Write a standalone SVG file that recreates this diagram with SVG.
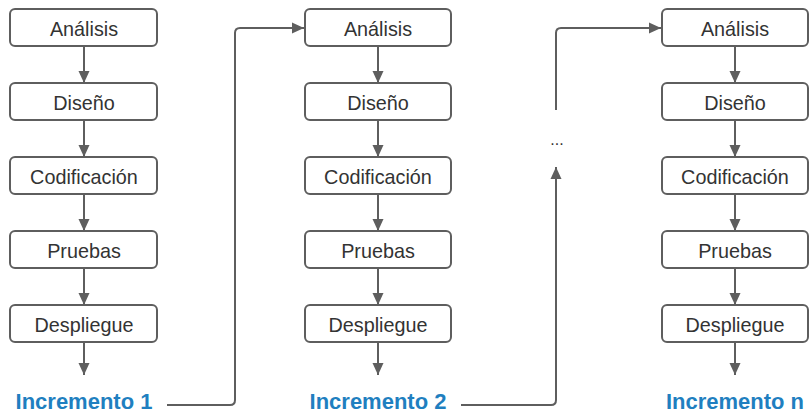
<svg xmlns="http://www.w3.org/2000/svg" width="809" height="412" viewBox="0 0 809 412">
  <defs>
    <marker id="arrow" viewBox="0 0 12 12" refX="12" refY="6" markerWidth="12" markerHeight="12" markerUnits="userSpaceOnUse" orient="auto">
      <path d="M0,0.5 L12,6 L0,11.5 Z" fill="#5e5e5e"/>
    </marker>
    <style>
      .box { fill: #ffffff; stroke: #5e5e5e; stroke-width: 2; }
      .lbl { font-family: "Liberation Sans", Arial, sans-serif; font-size: 19.8px; fill: #333333; text-anchor: middle; }
      .inc { font-family: "Liberation Sans", Arial, sans-serif; font-size: 22px; font-weight: bold; fill: #1f7fc0; text-anchor: middle; }
      .dots { font-family: "Liberation Sans", Arial, sans-serif; font-size: 16px; fill: #333333; text-anchor: middle; }
      .con { fill: none; stroke: #5e5e5e; stroke-width: 2; }
    </style>
  </defs>
  <rect width="809" height="412" fill="#ffffff"/>

  <!-- connectors -->
  <g id="connectors">
    <!-- column 1 -->
    <line class="con" x1="84" y1="46" x2="84" y2="83" marker-end="url(#arrow)"/>
    <line class="con" x1="84" y1="120" x2="84" y2="157" marker-end="url(#arrow)"/>
    <line class="con" x1="84" y1="194" x2="84" y2="231" marker-end="url(#arrow)"/>
    <line class="con" x1="84" y1="268" x2="84" y2="305" marker-end="url(#arrow)"/>
    <line class="con" x1="84" y1="342" x2="84" y2="375" marker-end="url(#arrow)"/>
    <!-- column 2 -->
    <line class="con" x1="378" y1="46" x2="378" y2="83" marker-end="url(#arrow)"/>
    <line class="con" x1="378" y1="120" x2="378" y2="157" marker-end="url(#arrow)"/>
    <line class="con" x1="378" y1="194" x2="378" y2="231" marker-end="url(#arrow)"/>
    <line class="con" x1="378" y1="268" x2="378" y2="305" marker-end="url(#arrow)"/>
    <line class="con" x1="378" y1="342" x2="378" y2="375" marker-end="url(#arrow)"/>
    <!-- column 3 -->
    <line class="con" x1="735" y1="46" x2="735" y2="83" marker-end="url(#arrow)"/>
    <line class="con" x1="735" y1="120" x2="735" y2="157" marker-end="url(#arrow)"/>
    <line class="con" x1="735" y1="194" x2="735" y2="231" marker-end="url(#arrow)"/>
    <line class="con" x1="735" y1="268" x2="735" y2="305" marker-end="url(#arrow)"/>
    <line class="con" x1="735" y1="342" x2="735" y2="375" marker-end="url(#arrow)"/>
    <!-- increment 1 to increment 2 -->
    <path class="con" d="M167,405 H230 Q235,405 235,400 V33 Q235,28 240,28 H304" marker-end="url(#arrow)"/>
    <!-- increment 2 to ellipsis -->
    <path class="con" d="M461,405 H551 Q556,405 556,400 V167" marker-end="url(#arrow)"/>
    <!-- ellipsis to increment n -->
    <path class="con" d="M556,110 V33 Q556,28 561,28 H661" marker-end="url(#arrow)"/>
  </g>

  <!-- increment 1 -->
  <g id="inc1-analisis"><rect class="box" x="10" y="9" width="147" height="37" rx="5"/><text class="lbl" x="84" y="35.5">Análisis</text></g>
  <g id="inc1-diseno"><rect class="box" x="10" y="83" width="147" height="37" rx="5"/><text class="lbl" x="84" y="109.5">Diseño</text></g>
  <g id="inc1-codificacion"><rect class="box" x="10" y="157" width="147" height="37" rx="5"/><text class="lbl" x="84" y="183.5">Codificación</text></g>
  <g id="inc1-pruebas"><rect class="box" x="10" y="231" width="147" height="37" rx="5"/><text class="lbl" x="84" y="257.5">Pruebas</text></g>
  <g id="inc1-despliegue"><rect class="box" x="10" y="305" width="147" height="37" rx="5"/><text class="lbl" x="84" y="331.5">Despliegue</text></g>
  <g id="inc1-label"><text class="inc" x="84" y="408.5">Incremento 1</text></g>

  <!-- increment 2 -->
  <g id="inc2-analisis"><rect class="box" x="305" y="9" width="146" height="37" rx="5"/><text class="lbl" x="378" y="35.5">Análisis</text></g>
  <g id="inc2-diseno"><rect class="box" x="305" y="83" width="146" height="37" rx="5"/><text class="lbl" x="378" y="109.5">Diseño</text></g>
  <g id="inc2-codificacion"><rect class="box" x="305" y="157" width="146" height="37" rx="5"/><text class="lbl" x="378" y="183.5">Codificación</text></g>
  <g id="inc2-pruebas"><rect class="box" x="305" y="231" width="146" height="37" rx="5"/><text class="lbl" x="378" y="257.5">Pruebas</text></g>
  <g id="inc2-despliegue"><rect class="box" x="305" y="305" width="146" height="37" rx="5"/><text class="lbl" x="378" y="331.5">Despliegue</text></g>
  <g id="inc2-label"><text class="inc" x="378" y="408.5">Incremento 2</text></g>

  <!-- ellipsis -->
  <g id="ellipsis"><text class="dots" x="557" y="145">...</text></g>

  <!-- increment n -->
  <g id="incn-analisis"><rect class="box" x="662" y="9" width="146" height="37" rx="5"/><text class="lbl" x="735" y="35.5">Análisis</text></g>
  <g id="incn-diseno"><rect class="box" x="662" y="83" width="146" height="37" rx="5"/><text class="lbl" x="735" y="109.5">Diseño</text></g>
  <g id="incn-codificacion"><rect class="box" x="662" y="157" width="146" height="37" rx="5"/><text class="lbl" x="735" y="183.5">Codificación</text></g>
  <g id="incn-pruebas"><rect class="box" x="662" y="231" width="146" height="37" rx="5"/><text class="lbl" x="735" y="257.5">Pruebas</text></g>
  <g id="incn-despliegue"><rect class="box" x="662" y="305" width="146" height="37" rx="5"/><text class="lbl" x="735" y="331.5">Despliegue</text></g>
  <g id="incn-label"><text class="inc" x="735" y="408.5">Incremento n</text></g>
</svg>
